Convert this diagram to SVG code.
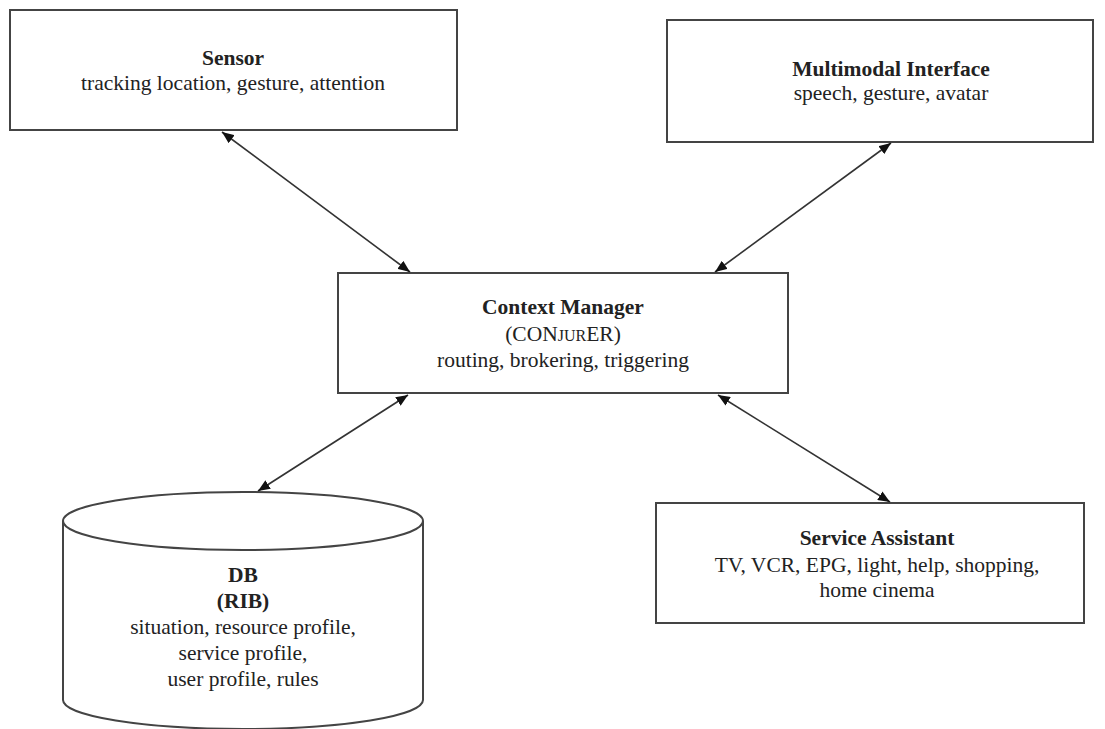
<svg xmlns="http://www.w3.org/2000/svg" width="1105" height="729" viewBox="0 0 1105 729">
<style>
.box{fill:#fff;stroke:#444;stroke-width:2}
.t{font-family:"Liberation Serif","Times New Roman",serif;font-size:21.5px;fill:#222;text-anchor:middle}
.b{font-weight:bold}
.c{stroke:#333;stroke-width:1.6;fill:none;marker-start:url(#ah);marker-end:url(#ah)}
</style>
<defs>
<marker id="ah" viewBox="0 0 12 10" refX="12" refY="5" markerWidth="12" markerHeight="10" markerUnits="userSpaceOnUse" orient="auto-start-reverse">
<path d="M0,0 L12,5 L0,10 Z" fill="#111"/>
</marker>
</defs>
<rect width="1105" height="729" fill="#fff"/>
<g id="sensor">
<rect class="box" x="10" y="10" width="447" height="120"/>
<text class="t b" x="233" y="65">Sensor</text>
<text class="t" x="233" y="90">tracking location, gesture, attention</text>
</g>
<g id="multimodal">
<rect class="box" x="667" y="20" width="426" height="122"/>
<text class="t b" x="891" y="76">Multimodal Interface</text>
<text class="t" x="891" y="100">speech, gesture, avatar</text>
</g>
<g id="context">
<rect class="box" x="338" y="273" width="450" height="120"/>
<text class="t b" x="563" y="314">Context Manager</text>
<text class="t" x="563" y="341">(CON<tspan font-size="16">JUR</tspan>ER)</text>
<text class="t" x="563" y="367">routing, brokering, triggering</text>
</g>
<g id="service">
<rect class="box" x="656" y="503" width="428" height="120"/>
<text class="t b" x="877" y="545">Service Assistant</text>
<text class="t" x="877" y="572">TV, VCR, EPG, light, help, shopping,</text>
<text class="t" x="877" y="597">home cinema</text>
</g>
<g id="db">
<path class="box" d="M63,521 L63,700 A180,29 0 0 0 423,700 L423,521"/>
<ellipse class="box" cx="243" cy="521" rx="180" ry="29"/>
<text class="t b" x="243" y="582">DB</text>
<text class="t b" x="243" y="608">(RIB)</text>
<text class="t" x="243" y="634">situation, resource profile,</text>
<text class="t" x="243" y="660">service profile,</text>
<text class="t" x="243" y="686">user profile, rules</text>
</g>
<g id="connectors">
<line class="c" x1="222" y1="132" x2="410" y2="272"/>
<line class="c" x1="891" y1="143" x2="715" y2="272"/>
<line class="c" x1="408" y1="395" x2="258" y2="491"/>
<line class="c" x1="718" y1="395" x2="890" y2="502"/>
</g>
</svg>
